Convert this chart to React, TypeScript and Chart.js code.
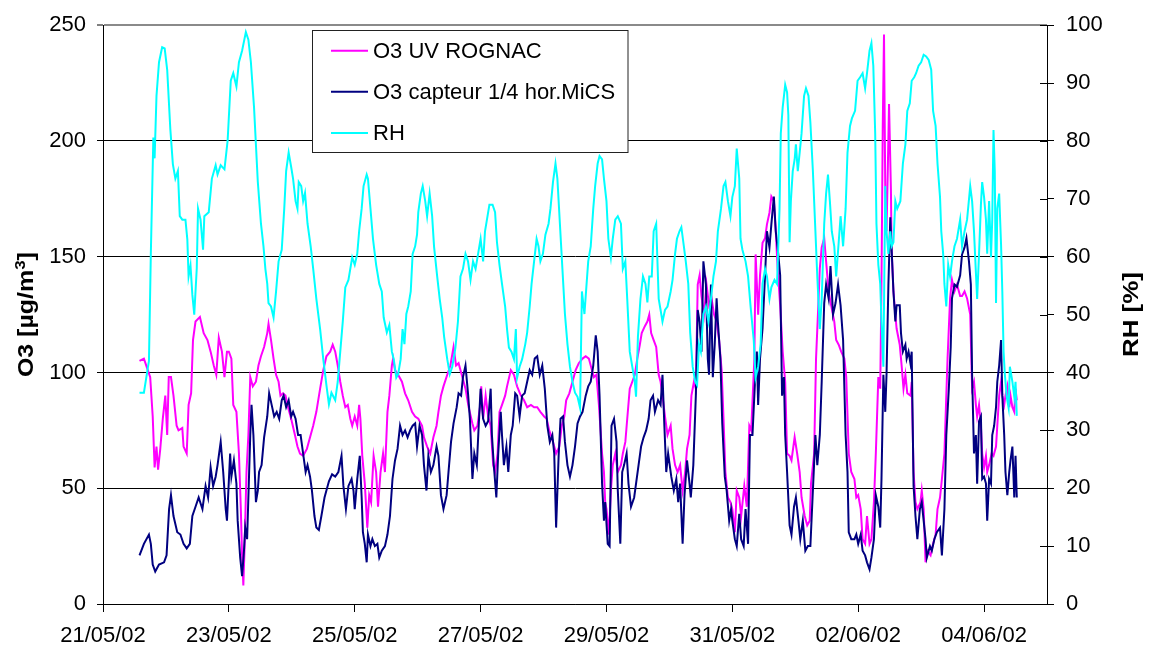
import React, { useEffect, useRef } from 'react';
import { Chart, registerables } from 'chart.js';

Chart.register(...registerables);

// x = days since 21/05/02 00:00
const DATE_LABELS = ['21/05/02', '23/05/02', '25/05/02', '27/05/02', '29/05/02', '31/05/02', '02/06/02', '04/06/02'];
const SERIES_NAMES = ['O3 UV ROGNAC', 'O3 capteur 1/4 hor.MiCS', 'RH'];
const SERIES_COLORS = ['#FF00FF', '#000080', '#00FFFF'];

const O3_UV: [number, number][] = [
  [0.58,105],[0.65,106],[0.70,102],[0.75,98],[0.79,81],[0.82,59],[0.85,68],[0.875,58],[0.91,67],[0.95,80],[0.99,90],[1.02,73],[1.045,98],[1.08,98],[1.12,90],[1.17,77],[1.20,75],[1.26,76],[1.28,68],[1.33,65],[1.36,86],[1.40,91],[1.43,114],[1.47,122],[1.54,124],[1.60,117],[1.66,114],[1.71,109],[1.76,103],[1.80,99],[1.84,115],[1.89,109],[1.93,98],[1.97,109],
  [2.0,109],[2.04,106],[2.07,86],[2.12,83],[2.16,65],[2.19,41],[2.21,21],[2.23,8],[2.25,25],[2.28,57],[2.31,73],[2.34,98],[2.38,94],[2.43,96],[2.47,103],[2.51,107],[2.56,111],[2.61,117],[2.63,121],[2.67,114],[2.71,106],[2.75,99],[2.79,96],[2.82,90],[2.86,91],[2.90,90],[2.94,85],[2.99,80],[3.05,73],[3.09,68],[3.13,65],[3.18,64],[3.24,67],[3.29,72],[3.34,77],[3.39,83],[3.45,93],[3.50,101],[3.55,107],[3.61,109],[3.65,112],[3.69,109],[3.73,103],[3.77,96],[3.81,90],[3.85,85],[3.89,86],[3.93,80],[3.96,77],
  [4.0,81],[4.04,77],[4.07,86],[4.09,80],[4.12,64],[4.16,52],[4.20,33],[4.23,47],[4.26,44],[4.30,64],[4.34,57],[4.37,42],[4.41,57],[4.45,65],[4.48,57],[4.52,83],[4.55,90],[4.59,103],[4.61,106],[4.64,101],[4.69,99],[4.75,96],[4.80,91],[4.85,88],[4.91,83],[4.96,81],[5.01,80],[5.07,77],[5.10,72],[5.15,68],[5.20,65],[5.25,72],[5.30,77],[5.33,83],[5.37,90],[5.41,94],[5.47,99],[5.52,103],[5.57,111],[5.61,103],[5.65,104],[5.71,98],[5.76,93],[5.81,85],[5.87,78],[5.90,75],[5.95,77],[5.99,85],
  [6.01,94],[6.04,80],[6.08,90],[6.12,81],[6.16,77],[6.20,60],[6.23,57],[6.27,65],[6.30,83],[6.34,86],[6.39,90],[6.42,94],[6.48,101],[6.53,99],[6.58,94],[6.64,90],[6.69,88],[6.74,85],[6.80,86],[6.85,85],[6.90,85],[6.95,83],[7.01,81],[7.05,80],[7.09,75],[7.13,72],[7.17,68],[7.20,65],[7.25,68],[7.29,77],[7.33,81],[7.36,88],[7.41,91],[7.46,96],[7.51,101],[7.56,104],[7.62,106],[7.67,107],[7.72,106],[7.77,101],[7.80,98],[7.84,99],[7.88,86],[7.93,65],[7.96,57],[7.98,44],
  [8.0,41],[8.04,30],[8.07,49],[8.10,60],[8.14,65],[8.18,57],[8.23,60],[8.26,65],[8.30,70],[8.33,80],[8.37,93],[8.41,96],[8.45,99],[8.49,106],[8.53,112],[8.56,117],[8.61,120],[8.65,122],[8.68,125],[8.71,117],[8.75,114],[8.79,111],[8.83,99],[8.86,96],[8.89,90],[8.93,81],[8.97,73],[9.02,77],[9.05,67],[9.09,60],[9.13,57],[9.17,60],[9.21,49],[9.25,57],[9.28,67],[9.32,73],[9.35,90],[9.39,96],[9.42,93],[9.45,138],[9.48,142],[9.51,133],[9.55,125],[9.59,138],[9.63,129],[9.67,132],[9.71,125],[9.75,122],[9.79,114],[9.83,101],[9.86,80],[9.89,57],[9.93,46],[9.97,44],
  [10.0,41],[10.04,31],[10.07,49],[10.11,46],[10.14,38],[10.19,51],[10.23,42],[10.27,77],[10.30,75],[10.35,106],[10.37,151],[10.41,125],[10.44,142],[10.48,156],[10.52,158],[10.55,164],[10.59,169],[10.62,176],[10.66,174],[10.69,161],[10.72,145],[10.76,129],[10.80,109],[10.84,96],[10.87,65],[10.91,64],[10.94,62],[10.99,72],[11.03,65],[11.07,57],[11.10,46],[11.15,38],[11.19,34],[11.23,36],[11.25,52],[11.30,65],[11.33,106],[11.36,125],[11.39,145],[11.42,154],[11.46,158],[11.49,148],[11.53,135],[11.57,129],[11.62,122],[11.65,114],[11.69,112],[11.73,109],[11.78,106],[11.81,98],[11.85,65],[11.89,57],[11.94,54],[11.97,46],
  [12.0,47],[12.04,41],[12.07,28],[12.11,26],[12.14,38],[12.18,26],[12.21,28],[12.25,44],[12.28,65],[12.32,98],[12.35,93],[12.37,138],[12.39,206],[12.41,246],[12.43,179],[12.45,161],[12.47,187],[12.49,216],[12.52,179],[12.53,154],[12.56,135],[12.59,125],[12.61,119],[12.66,112],[12.69,103],[12.72,93],[12.75,99],[12.78,91],[12.83,90],[12.85,96],[12.88,57],[12.91,44],[12.94,41],[12.99,44],[13.01,49],[13.04,41],[13.07,18],[13.10,23],[13.15,21],[13.19,26],[13.23,30],[13.26,41],[13.30,46],[13.33,54],[13.37,65],[13.40,90],[13.42,106],[13.46,132],[13.49,140],[13.53,135],[13.57,138],[13.62,133],[13.65,133],[13.69,135],[13.73,132],[13.78,125],[13.81,93],[13.84,96],[13.87,86],[13.89,81],[13.92,86],[13.95,77],[13.97,65],
  [14.0,59],[14.03,64],[14.05,57],[14.08,60],[14.12,65],[14.15,64],[14.19,68],[14.21,77],[14.24,90],[14.27,96],[14.29,90],[14.32,86],[14.34,90],[14.37,94],[14.40,85],[14.42,90],[14.45,85],[14.48,83],[14.50,93],[14.52,88],
];

const O3_MICS: [number, number][] = [
  [0.58,21],[0.65,26],[0.73,30],[0.76,26],[0.79,17],[0.83,14],[0.89,17],[0.97,18],[1.01,21],[1.05,41],[1.08,47],[1.12,38],[1.18,31],[1.23,30],[1.28,26],[1.33,24],[1.38,26],[1.42,38],[1.47,42],[1.52,46],[1.58,41],[1.63,51],[1.67,46],[1.71,59],[1.75,51],[1.79,55],[1.82,60],[1.87,70],[1.91,57],[1.95,41],[1.97,36],[2.02,65],
  [2.04,55],[2.08,62],[2.12,52],[2.14,36],[2.18,20],[2.21,12],[2.24,23],[2.26,33],[2.29,28],[2.34,73],[2.36,86],[2.39,73],[2.43,44],[2.46,49],[2.48,57],[2.52,60],[2.56,72],[2.61,81],[2.64,91],[2.68,86],[2.72,81],[2.76,83],[2.80,80],[2.84,88],[2.87,90],[2.91,85],[2.95,88],[2.99,81],[3.02,83],[3.06,80],[3.10,73],[3.14,73],[3.18,65],[3.22,57],[3.25,60],[3.29,55],[3.32,49],[3.36,38],[3.39,33],[3.43,32],[3.47,38],[3.52,46],[3.55,49],[3.59,53],[3.64,56],[3.69,55],[3.74,57],[3.79,64],[3.82,51],[3.86,41],[3.90,51],[3.95,54],[3.98,49],
  [4.0,41],[4.04,54],[4.08,64],[4.11,46],[4.13,31],[4.16,26],[4.19,18],[4.21,30],[4.25,25],[4.28,28],[4.32,25],[4.36,26],[4.39,20],[4.43,23],[4.48,25],[4.52,30],[4.56,38],[4.60,54],[4.64,62],[4.68,67],[4.72,77],[4.76,73],[4.80,75],[4.84,72],[4.88,75],[4.92,77],[4.96,78],[4.99,68],[5.03,77],[5.07,73],[5.10,60],[5.14,49],[5.17,64],[5.21,57],[5.25,60],[5.30,68],[5.33,64],[5.37,47],[5.41,41],[5.46,47],[5.49,57],[5.53,70],[5.57,78],[5.62,85],[5.65,91],[5.69,90],[5.72,98],[5.76,103],[5.80,91],[5.83,80],[5.87,54],[5.90,65],[5.94,60],[5.97,77],
  [6.0,93],[6.04,80],[6.08,77],[6.12,79],[6.16,93],[6.18,73],[6.21,60],[6.25,46],[6.28,65],[6.32,83],[6.34,73],[6.37,60],[6.41,68],[6.44,57],[6.48,73],[6.51,77],[6.55,91],[6.58,90],[6.62,81],[6.66,90],[6.70,91],[6.74,96],[6.78,101],[6.82,99],[6.86,106],[6.90,107],[6.94,99],[6.98,103],[7.02,93],[7.06,77],[7.10,70],[7.14,73],[7.17,65],[7.20,33],[7.24,64],[7.27,80],[7.31,81],[7.34,70],[7.38,60],[7.42,55],[7.46,60],[7.50,68],[7.54,78],[7.58,81],[7.62,83],[7.67,90],[7.71,94],[7.75,96],[7.79,103],[7.83,116],[7.86,109],[7.89,90],[7.93,52],[7.96,36],
  [7.98,44],[8.02,26],[8.05,25],[8.08,77],[8.12,80],[8.16,70],[8.18,49],[8.22,26],[8.25,57],[8.28,60],[8.32,65],[8.35,52],[8.39,42],[8.44,46],[8.47,52],[8.51,60],[8.55,68],[8.59,72],[8.63,75],[8.67,80],[8.70,88],[8.74,90],[8.77,83],[8.82,88],[8.86,86],[8.89,99],[8.92,77],[8.95,57],[8.98,65],[9.03,55],[9.07,49],[9.11,54],[9.14,44],[9.17,52],[9.21,26],[9.24,47],[9.28,62],[9.32,52],[9.34,46],[9.38,60],[9.42,90],[9.45,127],[9.48,122],[9.51,109],[9.54,148],[9.58,138],[9.61,106],[9.63,99],[9.66,138],[9.69,98],[9.72,112],[9.75,132],[9.77,122],[9.81,106],[9.84,78],[9.88,55],[9.91,49],[9.95,36],[9.98,41],
  [10.0,36],[10.04,28],[10.07,25],[10.11,39],[10.14,28],[10.18,25],[10.21,41],[10.25,26],[10.28,73],[10.32,73],[10.36,96],[10.39,109],[10.41,86],[10.44,106],[10.48,119],[10.52,142],[10.55,161],[10.59,154],[10.62,164],[10.66,176],[10.69,161],[10.73,151],[10.76,142],[10.79,90],[10.82,98],[10.84,73],[10.87,57],[10.91,34],[10.94,30],[10.98,42],[11.01,46],[11.05,36],[11.08,28],[11.12,36],[11.16,23],[11.20,25],[11.24,25],[11.28,49],[11.32,73],[11.35,60],[11.39,73],[11.42,96],[11.46,130],[11.49,138],[11.53,132],[11.56,146],[11.60,125],[11.64,130],[11.68,138],[11.72,129],[11.76,114],[11.80,73],[11.83,57],[11.85,31],[11.89,28],[11.94,28],[11.97,30],
  [12.0,26],[12.04,30],[12.07,23],[12.11,21],[12.14,18],[12.18,15],[12.21,20],[12.25,28],[12.28,47],[12.32,42],[12.35,33],[12.37,54],[12.40,99],[12.43,83],[12.45,99],[12.48,138],[12.51,167],[12.53,154],[12.56,135],[12.59,122],[12.61,129],[12.66,129],[12.68,117],[12.71,109],[12.75,112],[12.77,106],[12.80,109],[12.83,104],[12.85,109],[12.88,51],[12.91,38],[12.94,28],[12.98,41],[13.01,44],[13.04,36],[13.07,28],[13.09,20],[13.14,25],[13.17,23],[13.21,28],[13.25,31],[13.30,33],[13.33,21],[13.37,41],[13.40,73],[13.44,93],[13.47,111],[13.49,132],[13.53,138],[13.57,137],[13.62,142],[13.65,151],[13.69,154],[13.72,158],[13.76,148],[13.79,138],[13.81,99],[13.84,65],[13.87,73],[13.89,52],[13.92,79],[13.95,81],[13.97,54],
  [14.0,55],[14.03,52],[14.05,36],[14.08,54],[14.11,52],[14.13,73],[14.16,77],[14.19,85],[14.21,96],[14.24,103],[14.27,114],[14.29,90],[14.32,73],[14.34,57],[14.37,47],[14.40,57],[14.42,62],[14.45,68],[14.48,46],[14.50,64],[14.52,46],
];

const RH: [number, number][] = [
  [0.58,36.5],[0.65,36.5],[0.73,42],[0.76,60.5],[0.80,80.6],[0.82,77],[0.85,87.8],[0.89,93.6],[0.94,96.2],[0.98,96],[1.02,92.3],[1.07,82],[1.11,76],[1.15,73.5],[1.19,74.8],[1.22,67],[1.26,66.4],[1.31,66.4],[1.34,63],[1.36,56.6],[1.39,58.5],[1.42,53.4],[1.45,50],[1.49,58],[1.51,68.3],[1.55,66.4],[1.59,61.2],[1.61,67],[1.68,67.7],[1.73,73.5],[1.79,75.8],[1.82,74.2],[1.87,75.8],[1.93,75.1],[1.98,80],
  [2.03,90.4],[2.07,91.7],[2.12,89.4],[2.16,93.6],[2.21,95.6],[2.27,98.8],[2.31,97.5],[2.35,93.6],[2.40,85.8],[2.46,72.9],[2.51,65.7],[2.55,61.8],[2.58,57.9],[2.61,55.3],[2.63,52],[2.67,51.4],[2.71,49.5],[2.75,54],[2.79,59.2],[2.84,61.2],[2.88,68.3],[2.91,74.8],[2.95,78],[2.99,75.5],[3.02,73.5],[3.06,69.6],[3.09,68.3],[3.11,72.9],[3.15,72.2],[3.18,69.6],[3.21,71],[3.25,65.7],[3.30,61.8],[3.34,57.9],[3.39,52.7],[3.45,47.5],[3.50,42.3],[3.55,37.8],[3.59,34.5],[3.63,36.5],[3.69,35.2],[3.73,38.4],[3.77,43.6],[3.81,48.8],[3.85,54.7],[3.90,56],[3.96,59.9],
  [4.0,58.6],[4.04,60.5],[4.07,64.4],[4.11,68.3],[4.14,72.2],[4.19,74.2],[4.21,73.5],[4.25,68.3],[4.29,63.1],[4.34,58.6],[4.39,55.3],[4.43,54],[4.46,49.5],[4.51,46.9],[4.55,48.2],[4.59,43.6],[4.62,42.3],[4.66,39.1],[4.69,39.7],[4.73,42.3],[4.76,47.5],[4.79,44.9],[4.82,50.1],[4.85,51.4],[4.89,54],[4.92,60.5],[4.96,61.8],[4.99,63.8],[5.01,67.7],[5.05,70.9],[5.08,72.2],[5.12,69.6],[5.15,67],[5.19,70.9],[5.23,67],[5.26,61.8],[5.31,56.6],[5.35,52.7],[5.39,49.5],[5.42,46.2],[5.47,42.3],[5.51,39.7],[5.55,41],[5.60,44.3],[5.64,48.8],[5.68,56.6],[5.72,57.9],[5.76,60.5],[5.80,59.2],[5.84,56],[5.88,59.2],[5.92,57.9],[5.96,60.5],
  [6.0,63.1],[6.04,59.2],[6.07,64.4],[6.11,67],[6.14,69],[6.19,69],[6.23,67.7],[6.26,62.5],[6.30,58.6],[6.34,55.3],[6.39,51.4],[6.42,47.5],[6.45,44.3],[6.49,43.6],[6.53,42.3],[6.56,47.5],[6.58,39.1],[6.62,41],[6.66,42.3],[6.71,44.9],[6.74,46.9],[6.78,51.4],[6.81,55.3],[6.85,59.2],[6.89,63.1],[6.92,61.8],[6.95,59.2],[6.99,60.5],[7.03,63.8],[7.08,65.7],[7.11,68.3],[7.15,72.9],[7.19,76.1],[7.22,73.5],[7.26,65.7],[7.30,57.9],[7.34,50.1],[7.38,44.9],[7.42,41],[7.46,38.4],[7.50,36.5],[7.54,35.8],[7.58,33.9],[7.61,54],[7.65,50.1],[7.68,54.7],[7.71,59.2],[7.75,61.8],[7.79,68.3],[7.82,72.2],[7.86,76.1],[7.89,77.4],[7.93,76.8],[7.96,73.5],
  [8.0,69.6],[8.03,63.1],[8.07,59.9],[8.10,63.1],[8.14,66.4],[8.18,67],[8.23,65.7],[8.26,57.9],[8.30,59.2],[8.33,52.7],[8.37,43.6],[8.41,41],[8.45,38.4],[8.47,35.8],[8.50,46.2],[8.54,52.7],[8.58,56.6],[8.62,55.3],[8.65,52.1],[8.68,56.6],[8.72,56.6],[8.75,64.4],[8.79,65.7],[8.83,52.7],[8.86,50.8],[8.89,48.8],[8.93,50.8],[8.97,51.4],[9.02,54],[9.05,56],[9.09,60.5],[9.12,63.1],[9.16,64.4],[9.19,65.1],[9.23,61.8],[9.26,59.2],[9.30,55.3],[9.33,46.9],[9.37,41],[9.41,38.4],[9.44,37.8],[9.47,44.9],[9.50,43.6],[9.54,50.1],[9.58,51.4],[9.62,48.8],[9.66,52.7],[9.70,56.6],[9.74,59.2],[9.77,64.4],[9.82,68.3],[9.86,72.2],[9.89,72.9],[9.93,69.6],[9.97,67],
  [10.0,70.3],[10.04,72.2],[10.07,78.7],[10.11,73.5],[10.13,63.1],[10.16,61.2],[10.21,59.2],[10.25,56.6],[10.29,51.4],[10.34,45.6],[10.37,39.1],[10.41,41],[10.45,44.9],[10.48,55.3],[10.52,57.9],[10.55,56.6],[10.59,52.7],[10.62,54.7],[10.67,56],[10.71,55.3],[10.75,68.3],[10.77,81.3],[10.80,85.8],[10.84,89.7],[10.87,88.4],[10.89,84.5],[10.91,62.5],[10.93,69.6],[10.96,74.8],[10.99,76.8],[11.01,79.4],[11.04,74.8],[11.07,78],[11.10,81.3],[11.14,87.8],[11.17,89.1],[11.21,87.8],[11.24,83.2],[11.28,74.8],[11.32,64.4],[11.35,56.6],[11.39,47.5],[11.42,52.7],[11.46,65.7],[11.49,70.9],[11.52,74.2],[11.55,69.6],[11.58,64.4],[11.62,61.8],[11.65,56.6],[11.69,62.5],[11.72,67],[11.76,61.8],[11.80,68.3],[11.83,78],[11.87,82.6],[11.90,83.9],[11.95,85.2],[11.99,90.4],
  [12.03,91],[12.07,91.7],[12.11,89.1],[12.14,91.7],[12.18,95.6],[12.21,96.9],[12.24,93],[12.27,81.3],[12.29,65.7],[12.32,58.6],[12.35,55.3],[12.37,48.8],[12.40,41],[12.43,72.2],[12.45,64.4],[12.48,60.5],[12.51,64.4],[12.53,61.8],[12.56,62.5],[12.59,69.6],[12.62,68.3],[12.67,69.6],[12.71,76.1],[12.75,79.4],[12.78,85.2],[12.82,86.5],[12.85,90.4],[12.89,91],[12.92,91.7],[12.96,93],[13.0,93.6],[13.04,94.9],[13.08,94.6],[13.12,94],[13.16,92.3],[13.19,85.2],[13.23,82.6],[13.26,76.1],[13.30,70.3],[13.32,64.4],[13.35,60.5],[13.37,55.3],[13.40,51.4],[13.43,58.6],[13.46,56.6],[13.49,59.2],[13.53,61.8],[13.57,63.1],[13.62,66.4],[13.65,61.8],[13.69,64.4],[13.73,66.4],[13.78,72.2],[13.81,69.6],[13.84,64.4],[13.87,57.3],[13.89,52.7],[13.92,60.5],[13.95,69],[13.97,72.9],
  [14.0,70.3],[14.03,66.4],[14.05,60.5],[14.08,69.6],[14.11,59.9],[14.13,66.4],[14.15,81.9],[14.17,74.8],[14.19,52],[14.21,68.3],[14.24,70.9],[14.27,62.1],[14.29,54],[14.31,43.6],[14.33,39.7],[14.36,35.8],[14.39,33.9],[14.41,41],[14.45,38.4],[14.48,35.8],[14.50,38.4],[14.52,32.5],
];

const FONT_FAMILY = '"Liberation Sans", Arial, Helvetica, sans-serif';

function drawRotatedTitle(ctx: CanvasRenderingContext2D, parts: { text: string; size: number; bold: boolean; rise: number }[], cx: number, cy: number, targetLen: number) {
  ctx.save();
  let total = 0;
  const widths = parts.map((p) => {
    ctx.font = `${p.bold ? 'bold ' : ''}${p.size}px ${FONT_FAMILY}`;
    const w = ctx.measureText(p.text).width;
    total += w;
    return w;
  });
  ctx.translate(cx, cy);
  ctx.rotate(-Math.PI / 2);
  ctx.scale(targetLen / total, 1);
  ctx.fillStyle = '#000';
  ctx.textBaseline = 'alphabetic';
  ctx.textAlign = 'left';
  let x = -total / 2;
  parts.forEach((p, i) => {
    ctx.font = `${p.bold ? 'bold ' : ''}${p.size}px ${FONT_FAMILY}`;
    ctx.fillText(p.text, x, 8 - p.rise);
    x += widths[i];
  });
  ctx.restore();
}

const overlayPlugin = {
  id: 'overlay',
  afterDraw(chart: any) {
    const { ctx, chartArea: a, scales } = chart;
    ctx.save();
    // inner half of right-axis ticks
    const y1 = scales.y1;
    ctx.strokeStyle = '#000';
    ctx.lineWidth = 1;
    y1.ticks.forEach((t: any) => {
      const py = Math.round(y1.getPixelForValue(t.value)) + 0.5;
      ctx.beginPath();
      ctx.moveTo(a.right - 7, py);
      ctx.lineTo(a.right, py);
      ctx.stroke();
    });
    ctx.restore();

    const midY = (a.top + a.bottom) / 2;
    drawRotatedTitle(ctx, [
      { text: 'O3 ', size: 22, bold: true, rise: 0 },
      { text: '[µg/m', size: 22, bold: true, rise: 0 },
      { text: '3', size: 15, bold: true, rise: 8 },
      { text: ']', size: 22, bold: true, rise: 0 },
    ], 25, midY, 125);
    drawRotatedTitle(ctx, [{ text: 'RH [%]', size: 22, bold: true, rise: 0 }], 1130, midY, 85);

    // legend box
    ctx.save();
    ctx.fillStyle = '#fff';
    ctx.fillRect(312.5, 30.5, 315.5, 122);
    ctx.strokeStyle = '#222';
    ctx.lineWidth = 1;
    ctx.strokeRect(312.5, 30.5, 315.5, 122);
    const rows = [50.7, 91.7, 133];
    ctx.font = `22px ${FONT_FAMILY}`;
    ctx.textBaseline = 'middle';
    ctx.textAlign = 'left';
    SERIES_NAMES.forEach((name, i) => {
      ctx.strokeStyle = SERIES_COLORS[i];
      ctx.lineWidth = 2;
      ctx.beginPath();
      ctx.moveTo(331, rows[i]);
      ctx.lineTo(368, rows[i]);
      ctx.stroke();
      ctx.fillStyle = '#000';
      ctx.fillText(name, 373, rows[i] + 1);
    });
    ctx.restore();
  },
};

export default function App() {
  const canvasRef = useRef<HTMLCanvasElement | null>(null);

  useEffect(() => {
    if (!canvasRef.current) return;
    const font = { family: FONT_FAMILY, size: 22 };
    const toXY = (arr: [number, number][]) => arr.map(([x, y]) => ({ x, y }));
    const chart = new Chart(canvasRef.current, {
      type: 'line',
      data: {
        datasets: [
          { label: SERIES_NAMES[0], data: toXY(O3_UV), borderColor: SERIES_COLORS[0], yAxisID: 'y', order: 3 },
          { label: SERIES_NAMES[1], data: toXY(O3_MICS), borderColor: SERIES_COLORS[1], yAxisID: 'y', order: 2 },
          { label: SERIES_NAMES[2], data: toXY(RH), borderColor: SERIES_COLORS[2], yAxisID: 'y1', order: 1 },
        ],
      },
      options: {
        responsive: false,
        animation: false,
        layout: { padding: { top: 24, left: 0, right: 0, bottom: 0 } },
        plugins: { legend: { display: false }, tooltip: { enabled: false }, title: { display: false } },
        elements: { point: { radius: 0 }, line: { borderWidth: 2, tension: 0, fill: false } },
        scales: {
          x: {
            type: 'linear',
            min: 0,
            max: 15,
            afterFit: (s: any) => { s.height = 51; },
            ticks: {
              stepSize: 2,
              includeBounds: false,
              autoSkip: false,
              maxRotation: 0,
              minRotation: 0,
              padding: 11,
              font,
              color: '#000',
              callback: (v: any) => DATE_LABELS[Math.round(Number(v) / 2)] ?? '',
            },
            grid: { drawOnChartArea: false, drawTicks: true, tickLength: 8, tickColor: '#000', tickWidth: 1 },
            border: { display: true, color: '#000', width: 1 },
          },
          y: {
            position: 'left',
            min: 0,
            max: 250,
            afterFit: (s: any) => { s.width = 103; },
            ticks: { stepSize: 50, padding: 11, font, color: '#000' },
            grid: {
              color: (c: any) => (c.tick && c.tick.value === 250 ? '#8a8a8a' : '#000'),
              lineWidth: (c: any) => (c.tick && c.tick.value === 250 ? 2 : 1),
              tickLength: 6,
              tickColor: '#000',
              tickWidth: 1,
            },
            border: { display: true, color: '#000', width: 1 },
          },
          y1: {
            position: 'right',
            min: 0,
            max: 100,
            afterFit: (s: any) => { s.width = 107; },
            ticks: { stepSize: 10, padding: 12, font, color: '#000' },
            grid: { drawOnChartArea: false, drawTicks: true, tickLength: 7, tickColor: '#000', tickWidth: 1 },
            border: { display: true, color: '#000', width: 1 },
          },
        },
      } as any,
      plugins: [overlayPlugin],
    });
    return () => chart.destroy();
  }, []);

  return (
    <div style={{ position: 'absolute', left: 0, top: 0, width: 1154, height: 655, background: '#fff' }}>
      <canvas ref={canvasRef} width={1154} height={655} style={{ display: 'block' }} />
    </div>
  );
}
